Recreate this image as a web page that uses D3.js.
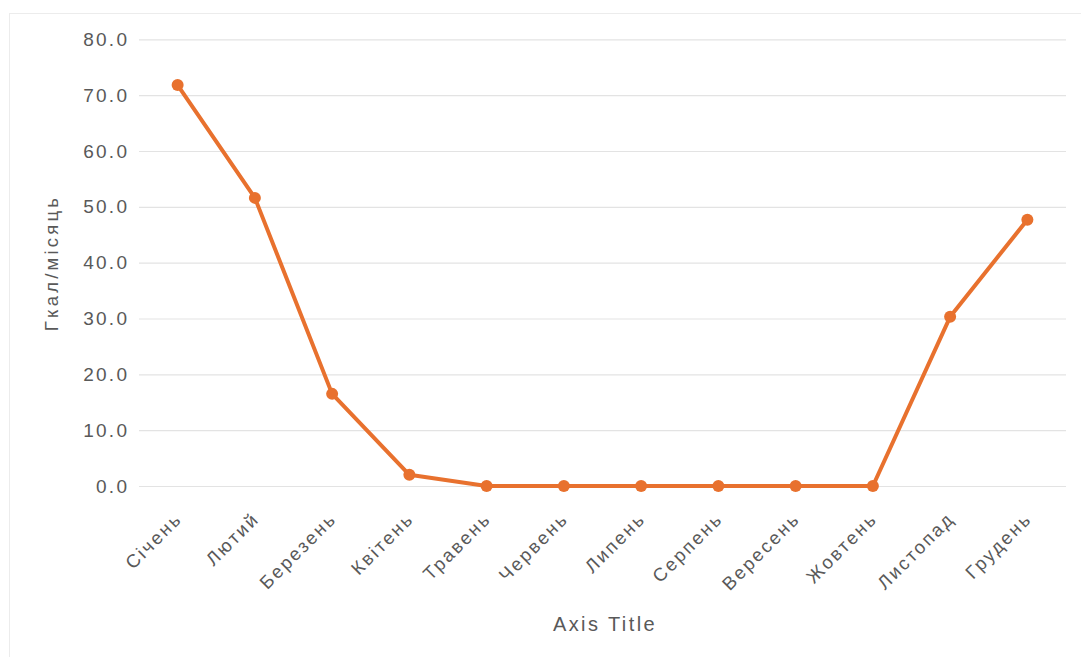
<!DOCTYPE html>
<html>
<head>
<meta charset="utf-8">
<script src="https://cdn.jsdelivr.net/npm/d3@7"></script>
<style>
  html, body { margin: 0; padding: 0; background: #ffffff; }
  svg { display: block; }
  text { font-family: "Liberation Sans", Arial, sans-serif; fill: #595959; }
</style>
</head>
<body>
<svg id="chart" width="1081" height="657"></svg>
<script>
// Monthly heat consumption
const months = ["Січень", "Лютий", "Березень", "Квітень", "Травень", "Червень",
                "Липень", "Серпень", "Вересень", "Жовтень", "Листопад", "Грудень"];
const heatValues = [71.8, 51.6, 16.5, 2.0, 0, 0, 0, 0, 0, 0, 30.3, 47.7];
const yTicks = [0, 10, 20, 30, 40, 50, 60, 70, 80];
const yAxisTitle = "Гкал/місяць";
const xAxisTitle = "Axis Title";

const svg = d3.select("#chart");
const W = 1081, H = 657;
const plot = { left: 139, right: 1066, top: 39.3, bottom: 486 };
const lineColor = "#e8712e";
const letterSpacing = 2.3;

// chart area frame
svg.append("rect")
  .attr("x", 9.5).attr("y", 13.5)
  .attr("width", W + 20).attr("height", H + 20)
  .attr("fill", "#ffffff")
  .attr("stroke", "#ececec")
  .attr("stroke-width", 1);

const x = d3.scalePoint()
  .domain(months)
  .range([plot.left, plot.right])
  .padding(0.5);

const y = d3.scaleLinear()
  .domain([0, 80])
  .range([plot.bottom, plot.top]);

// horizontal gridlines + y tick labels via axis
const yAxis = d3.axisLeft(y)
  .tickValues(yTicks)
  .tickSize(-(plot.right - plot.left))
  .tickPadding(10)
  .tickFormat(d3.format(".1f"));

const gy = svg.append("g")
  .attr("transform", `translate(${plot.left},0)`)
  .call(yAxis);
gy.select(".domain").remove();
gy.selectAll(".tick line")
  .attr("stroke", "#e3e3e3")
  .attr("stroke-width", 1.2);
gy.selectAll(".tick text")
  .attr("x", -12 + letterSpacing)
  .style("font-size", "19px")
  .style("letter-spacing", letterSpacing + "px")
  .attr("fill", "#5b5b5b");

// x axis labels (rotated)
const xAxis = d3.axisBottom(x).tickSize(0).tickPadding(0);
const gx = svg.append("g")
  .attr("transform", `translate(0,${plot.bottom})`)
  .call(xAxis);
gx.select(".domain").remove();
gx.selectAll(".tick text")
  .attr("y", 0).attr("dy", 0)
  .attr("text-anchor", "end")
  .attr("transform", "translate(5,34) rotate(-45)")
  .style("font-size", "18.5px")
  .style("letter-spacing", letterSpacing + "px")
  .attr("fill", "#5b5b5b");

// data line
const line = d3.line()
  .x((d, i) => x(months[i]))
  .y(d => y(d));

svg.append("path")
  .datum(heatValues)
  .attr("fill", "none")
  .attr("stroke", lineColor)
  .attr("stroke-width", 4)
  .attr("stroke-linejoin", "round")
  .attr("stroke-linecap", "round")
  .attr("d", line);

svg.append("g")
  .selectAll("circle")
  .data(heatValues)
  .join("circle")
  .attr("cx", (d, i) => x(months[i]))
  .attr("cy", d => y(d))
  .attr("r", 6)
  .attr("fill", lineColor);

// axis titles
svg.append("text")
  .attr("transform", "translate(58,263) rotate(-90)")
  .attr("text-anchor", "middle")
  .style("font-size", "18.5px")
  .style("letter-spacing", "3.2px")
  .attr("fill", "#5b5b5b")
  .text(yAxisTitle);

svg.append("text")
  .attr("x", 605).attr("y", 631)
  .attr("text-anchor", "middle")
  .style("font-size", "20px")
  .style("letter-spacing", "2.4px")
  .attr("fill", "#5b5b5b")
  .text(xAxisTitle);
</script>
</body>
</html>
